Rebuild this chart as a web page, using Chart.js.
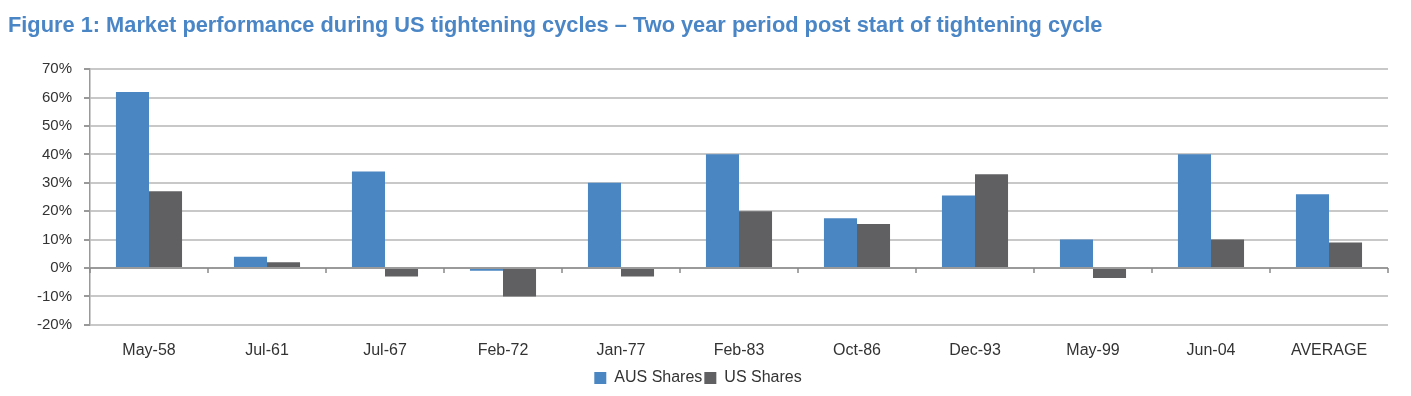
<!DOCTYPE html>
<html>
<head>
<meta charset="utf-8">
<script src="https://cdn.jsdelivr.net/npm/chart.js@4"></script>
<style>
  html, body { margin: 0; padding: 0; background: #fff; }
  #wrap { width: 1411px; height: 396px; position: relative; }
</style>
</head>
<body>
<div id="wrap"><canvas id="myChart" width="1411" height="396"></canvas></div>
<script>
'use strict';
// data (percent)
let cycles = ['May-58','Jul-61','Jul-67','Feb-72','Jan-77','Feb-83','Oct-86','Dec-93','May-99','Jun-04','AVERAGE'];
let ausShares = [62, 4, 34, -1, 30, 40, 17.5, 25.5, 10, 40, 26];
let usShares = [27, 2, -3, -10, -3, 20, 15.5, 33, -3.5, 10, 9];
let yTicks = [-20, -10, 0, 10, 20, 30, 40, 50, 60, 70];

// little tick marks on the zero line between categories
let zeroTicks = {
  id: 'zeroTicks',
  afterDatasetsDraw(chart) {
    let ctx = chart.ctx;
    let x = chart.scales.x, y = chart.scales.y;
    let y0 = y.getPixelForValue(0);
    ctx.save();
    ctx.strokeStyle = '#8a8a8a';
    ctx.lineWidth = 1.5;
    ctx.beginPath();
    ctx.moveTo(x.left, y0);
    ctx.lineTo(x.right, y0);
    for (let i = 0; i <= cycles.length; i++) {
      let px = x.left + (x.right - x.left) * i / cycles.length;
      ctx.moveTo(px, y0);
      ctx.lineTo(px, y0 + 5);
    }
    ctx.stroke();
    ctx.restore();
  }
};

let ctx = document.getElementById('myChart').getContext('2d');
let chart = new Chart(ctx, {
  type: 'bar',
  data: {
    labels: cycles,
    datasets: [{
      label: 'AUS Shares',
      backgroundColor: '#4a86c2',
      data: ausShares
    }, {
      label: 'US Shares',
      backgroundColor: '#606063',
      data: usShares
    }]
  },
  plugins: [zeroTicks],
  options: {
    responsive: false,
    animation: false,
    layout: { padding: { left: 8, right: 23, top: 13, bottom: 0 } },
    categoryPercentage: 0.56,
    barPercentage: 1,
    plugins: {
      title: {
        display: true,
        align: 'start',
        text: 'Figure 1: Market performance during US tightening cycles \u2013 Two year period post start of tightening cycle',
        color: '#4a86c6',
        font: { family: '"Liberation Sans", Arial, sans-serif', size: 21.8, weight: 'bold' },
        padding: { top: 0, bottom: 30 }
      },
      legend: {
        position: 'bottom',
        labels: {
          boxWidth: 12,
          boxHeight: 12,
          padding: 2,
          color: '#333',
          font: { family: '"Liberation Sans", Arial, sans-serif', size: 16 }
        }
      },
      tooltip: { enabled: false }
    },
    scales: {
      x: {
        grid: { display: false },
        border: { display: false },
        ticks: {
          color: '#333',
          padding: 8,
          font: { family: '"Liberation Sans", Arial, sans-serif', size: 16 }
        }
      },
      y: {
        min: -20,
        max: 70,
        afterBuildTicks(axis) { axis.ticks = yTicks.map(v => ({ value: v })); },
        afterFit(axis) { axis.width = 82; },
        grid: { color: '#c8c8c8', lineWidth: 2, tickLength: 6, tickColor: '#999' },
        border: { display: true, color: '#999', width: 1.5 },
        ticks: {
          color: '#333',
          padding: 12,
          font: { family: '"Liberation Sans", Arial, sans-serif', size: 15 },
          callback: v => v + '%'
        }
      }
    }
  }
});
</script>
</body>
</html>
